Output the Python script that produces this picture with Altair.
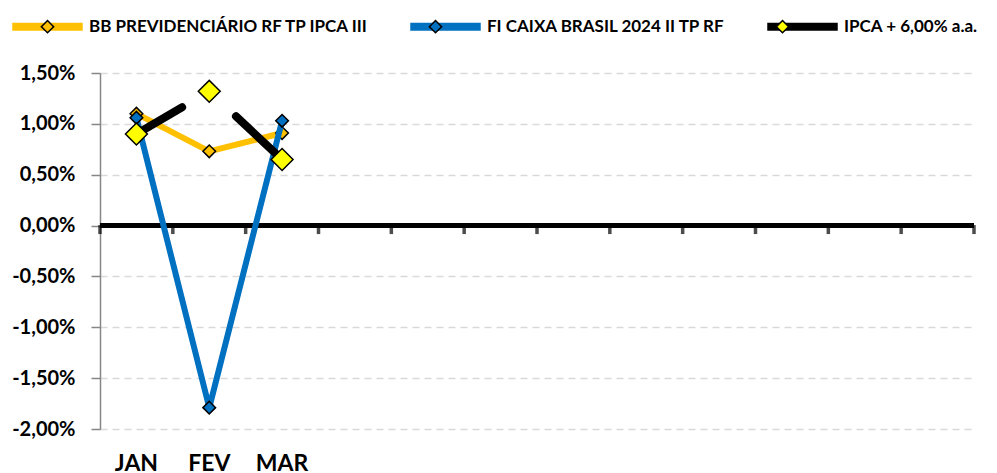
import json
import altair as alt
import pandas as pd

months = ["JAN", "FEV", "MAR", "ABR", "MAI", "JUN", "JUL", "AGO", "SET", "OUT", "NOV", "DEZ"]
data_months = ["JAN", "FEV", "MAR"]
series = ["BB PREVIDENCIÁRIO RF TP IPCA III", "FI CAIXA BRASIL 2024 II TP RF", "IPCA + 6,00% a.a."]
bb_values = [1.10, 0.73, 0.91]
caixa_values = [1.06, -1.79, 1.03]
ipca_values = [0.90, 1.32, 0.65]
y_ticks = [-2.0, -1.5, -1.0, -0.5, 0.0, 0.5, 1.0, 1.5]
line_colors = ["#FFC000", "#0070C0", "#000000"]
marker_fills = ["#FFC000", "#0070C0", "#FFFF00"]

rows = []
for name, vals in zip(series, [bb_values, caixa_values, ipca_values]):
    for m, v in zip(data_months, vals):
        rows.append({"mes": m, "serie": name, "serie_m": name, "valor": v})
df = pd.DataFrame(rows)
df_months = pd.DataFrame({"mes": months})

FONT = "Lato"

x_scale = alt.Scale(type="band", domain=months, paddingInner=0, paddingOuter=0)
x_axis = alt.Axis(
    title=None,
    domain=False,
    ticks=False,
    grid=False,
    labelAngle=0,
    labelFont=FONT,
    labelFontWeight="bold",
    labelFontSize=23,
    labelColor="black",
    labelPadding=23,
    labelExpr="indexof(" + json.dumps(data_months) + ", datum.value) >= 0 ? datum.value : ''",
)
y_scale = alt.Scale(domain=[-2.0, 1.5], nice=False, zero=False)
y_axis = alt.Axis(
    title=None,
    values=y_ticks,
    labelExpr="(datum.value < 0 ? '-' : '') + replace(format(abs(datum.value), '.2f'), '.', ',') + '%'",
    grid=True,
    gridDash=[7, 5],
    gridColor="#D9D9D9",
    gridWidth=1.5,
    domainColor="#868686",
    domainWidth=1.5,
    tickColor="#868686",
    tickSize=9,
    tickWidth=1.5,
    labelFont=FONT,
    labelFontWeight="bold",
    labelFontSize=20,
    labelColor="black",
    labelPadding=16,
)

def xenc(bp):
    return alt.X("mes:N", scale=x_scale, axis=x_axis, bandPosition=bp, sort=months)

def yenc():
    return alt.Y("valor:Q", scale=y_scale, axis=y_axis)

LEG_X = -94
LEG_Y = -88
LEG_FONT = 17
LEG_COLPAD = 25
LINE_SIZE = 5625      # column: sqrt 75 + stroke 8 = 83 px
DIAMOND_SIZE = 6642   # column: sqrt 81.5 + stroke 1.5 = 83 px

color_enc = alt.Color(
    "serie:N",
    scale=alt.Scale(domain=series, range=line_colors),
    legend=alt.Legend(
        title=None,
        orient="none",
        legendX=LEG_X,
        legendY=LEG_Y,
        direction="horizontal",
        symbolType="M-0.94,0L0.94,0",
        symbolSize=LINE_SIZE,
        symbolStrokeWidth=8,
        labelFont=FONT,
        labelFontWeight="bold",
        labelFontSize=LEG_FONT,
        labelColor="black",
        labelLimit=500,
        labelOffset=0,
        columnPadding=LEG_COLPAD,
        padding=0,
    ),
)
fill_enc = alt.Fill(
    "serie_m:N",
    sort=series,
    scale=alt.Scale(range=marker_fills),
    legend=alt.Legend(
        title=None,
        orient="none",
        legendX=LEG_X,
        legendY=LEG_Y,
        direction="horizontal",
        symbolType="M0,-0.15L0.15,0L0,0.15L-0.15,0Z",
        symbolSize=DIAMOND_SIZE,
        symbolStrokeColor="black",
        symbolStrokeWidth=1.5,
        labelFont=FONT,
        labelFontWeight="bold",
        labelFontSize=LEG_FONT,
        labelOpacity=0,
        labelLimit=500,
        labelOffset=0,
        columnPadding=LEG_COLPAD,
        padding=0,
    ),
)

zero_rule = alt.Chart(df_months).mark_rule(color="black", strokeWidth=4).encode(y=alt.datum(0))
ticks_start = alt.Chart(df_months).mark_tick(
    orient="vertical", color="black", thickness=3.5, size=9, yOffset=4
).encode(x=xenc(0), y=alt.datum(0))
ticks_end = alt.Chart(df_months).transform_filter(
    alt.datum.mes == months[-1]
).mark_tick(
    orient="vertical", color="black", thickness=3.5, size=9, yOffset=4
).encode(x=xenc(1), y=alt.datum(0))

layers = [zero_rule, ticks_start, ticks_end]
for i, name in enumerate(series):
    base = alt.Chart(df).transform_filter(alt.datum.serie == name)
    line_kwargs = dict(strokeWidth=6, strokeCap="round", strokeJoin="round")
    size = 160
    if i == 2:
        line_kwargs = dict(strokeWidth=8, strokeCap="round", strokeJoin="round", strokeDash=[53, 68, 300])
        size = 480
    layers.append(base.mark_line(**line_kwargs).encode(x=xenc(0.5), y=yenc(), color=color_enc))
    layers.append(
        base.mark_point(shape="diamond", filled=True, stroke="black", strokeWidth=1.5, opacity=1, size=size)
        .encode(x=xenc(0.5), y=yenc(), fill=fill_enc)
    )

chart = (
    alt.layer(*layers)
    .properties(
        width=874,
        height=356,
        autosize=alt.AutoSizeParams(type="none"),
        padding={"left": 92, "top": 65, "right": 15, "bottom": 50},
        background="white",
    )
    .configure_view(stroke=None)
)

chart.save("out.html", embed_options={"renderer": "svg", "actions": False})
